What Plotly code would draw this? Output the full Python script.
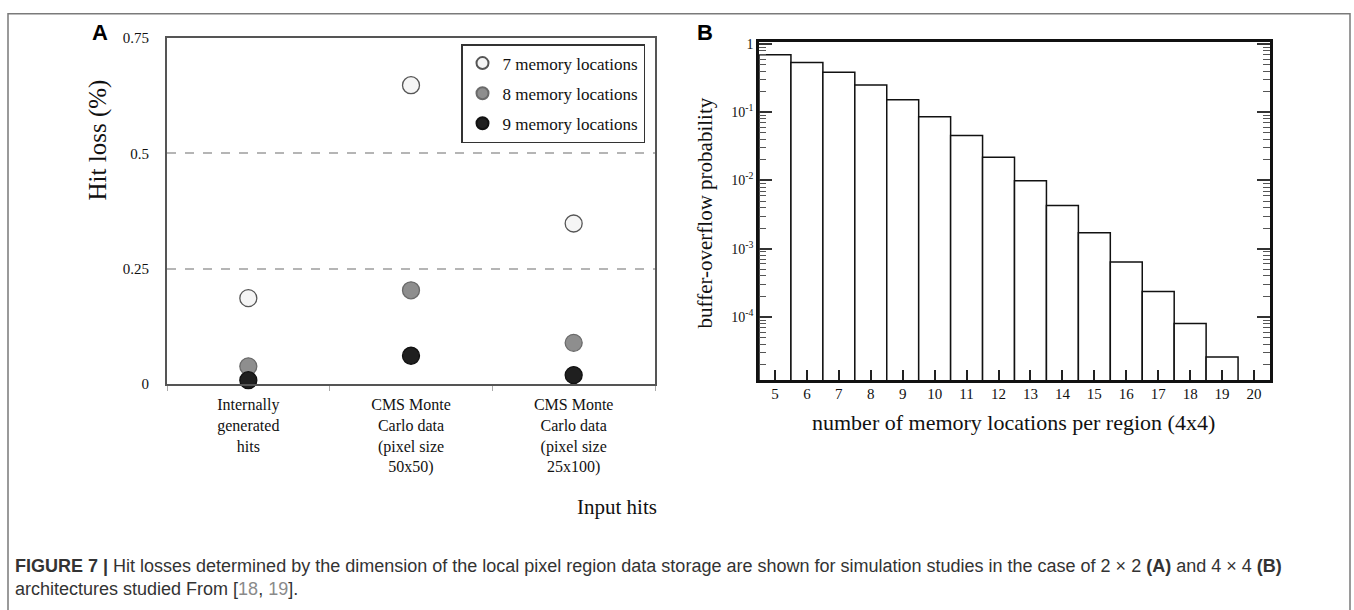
import plotly.graph_objects as go

W, H = 1354, 610

# ---------------- Panel A data ----------------
input_categories = [
    "Internally<br>generated<br>hits",
    "CMS Monte<br>Carlo data<br>(pixel size<br>50x50)",
    "CMS Monte<br>Carlo data<br>(pixel size<br>25x100)",
]
series_names = ["7 memory locations", "8 memory locations", "9 memory locations"]
hit_loss_7 = [0.186, 0.648, 0.348]
hit_loss_8 = [0.038, 0.203, 0.089]
hit_loss_9 = [0.008, 0.061, 0.019]
a_tick_vals = [0, 0.25, 0.5, 0.75]
a_tick_text = ["0", "0.25", "0.5", "0.75"]

# ---------------- Panel B data ----------------
memory_locations = [5, 6, 7, 8, 9, 10, 11, 12, 13, 14, 15, 16, 17, 18, 19]
overflow_prob = [0.695, 0.534, 0.385, 0.251, 0.152, 0.0857, 0.0455, 0.0219,
                 0.0099, 0.00431, 0.00172, 0.00064, 0.000237, 0.000080, 0.000026]
b_major_vals = [1, 0.1, 0.01, 0.001, 0.0001]
b_major_text = ["1", "10<sup>-1</sup>", "10<sup>-2</sup>", "10<sup>-3</sup>", "10<sup>-4</sup>"]
b_minor_vals = [m * d for d in [1e-5, 1e-4, 1e-3, 1e-2, 1e-1] for m in range(2, 10)]

SERIF = "Liberation Serif, Times New Roman, serif"
SANS = "Liberation Sans, Arial, sans-serif"

def px_x(x):
    return x / W

def px_y(y):
    return 1 - y / H

fig = go.Figure()

styles = [
    dict(color="#f5f5f5", line=dict(color="#555555", width=1.3)),
    dict(color="#8e8e8e", line=dict(color="#6a6a6a", width=1.3)),
    dict(color="#1f1f1f", line=dict(color="#111111", width=1.3)),
]
for name, vals, st in zip(series_names, [hit_loss_7, hit_loss_8, hit_loss_9], styles):
    fig.add_trace(go.Scatter(
        x=input_categories, y=vals, mode="markers", name=name,
        legendgroup=name,
        marker=dict(symbol="circle", size=17, **st),
        cliponaxis=False, xaxis="x", yaxis="y",
    ))

fig.add_trace(go.Bar(
    x=memory_locations, y=overflow_prob, width=1,
    marker=dict(color="white", line=dict(color="#111111", width=1.5)),
    showlegend=False, xaxis="x2", yaxis="y2",
))

fig.update_layout(
    width=W, height=H,
    margin=dict(l=0, r=0, t=0, b=0),
    paper_bgcolor="white", plot_bgcolor="white",
    showlegend=True,
    legend=dict(
        x=px_x(645), y=px_y(37), xanchor="right", yanchor="top",
        bgcolor="white", bordercolor="#333333", borderwidth=1.5,
        font=dict(family=SERIF, size=17, color="#111111"),
        itemsizing="constant", tracegroupgap=5,
        itemwidth=30,
    ),
    xaxis=dict(
        domain=[px_x(167), px_x(655)],
        type="category", categoryorder="array", categoryarray=input_categories,
        range=[-0.5, 2.5], anchor="y",
        showline=True, linecolor="#555555", linewidth=2, mirror=True,
        ticks="outside", tickson="boundaries", ticklen=5, tickcolor="#aaaaaa",
        tickfont=dict(family=SERIF, size=16, color="#111111"),
        showgrid=False, zeroline=False,
        ticklabelstandoff=5,
    ),
    yaxis=dict(
        domain=[px_y(386), px_y(31)], range=[0, 0.75], anchor="x",
        tickmode="array", tickvals=a_tick_vals, ticktext=a_tick_text,
        tickfont=dict(family=SERIF, size=15, color="#111111"),
        showline=True, linecolor="#555555", linewidth=2, mirror=True,
        ticks="", showgrid=True, gridcolor="#b5b5b5", gridwidth=1.5,
        griddash="dash", zeroline=False, ticklabelstandoff=13,
    ),
    xaxis2=dict(
        domain=[px_x(759), px_x(1270)], range=[4.5, 20.5], anchor="y2",
        tickmode="linear", tick0=5, dtick=1,
        ticks="inside", ticklen=10, tickwidth=1.5, tickcolor="#222222",
        tickfont=dict(family=SERIF, size=15, color="#111111"),
        showline=True, linecolor="#111111", linewidth=2.5, mirror=True,
        showgrid=False, zeroline=False, ticklabelstandoff=-2,
    ),
    yaxis2=dict(
        domain=[px_y(382), px_y(35)], type="log", range=[-4.923, 0.027], anchor="x2",
        tickmode="array", tickvals=b_major_vals, ticktext=b_major_text,
        ticks="inside", ticklen=13, tickwidth=1.5, tickcolor="#333333",
        tickfont=dict(family=SERIF, size=14, color="#111111"),
        showline=True, linecolor="#111111", linewidth=2.5, mirror="ticks",
        showgrid=False, zeroline=False,
        minor=dict(tickmode="array", tickvals=b_minor_vals, ticks="inside",
                   ticklen=7, tickwidth=1.2, tickcolor="#555555", showgrid=False),
    ),
)

annotations = [
    dict(text="<b>A</b>", x=px_x(100), y=px_y(25), font=dict(family=SANS, size=22, color="#000")),
    dict(text="<b>B</b>", x=px_x(705), y=px_y(25), font=dict(family=SANS, size=22, color="#000")),
    dict(text="Hit loss (%)", x=px_x(98), y=px_y(136), textangle=-90,
         font=dict(family=SERIF, size=25, color="#111")),
    dict(text="Input hits", x=px_x(617), y=px_y(512),
         font=dict(family=SERIF, size=21, color="#111")),
    dict(text="buffer-overflow probability", x=px_x(705), y=px_y(211), textangle=-90,
         font=dict(family=SERIF, size=21, color="#111")),
    dict(text="number of memory locations per region (4x4)", x=px_x(1013), y=px_y(426),
         font=dict(family=SERIF, size=22, color="#111")),
]
for a in annotations:
    a.update(xref="paper", yref="paper", showarrow=False, xanchor="center", yanchor="middle")

caption = ("<b>FIGURE 7 |</b> Hit losses determined by the dimension of the local pixel region data storage "
           "are shown for simulation studies in the case of 2 × 2 <b>(A)</b> and 4 × 4 <b>(B)</b><br>"
           "architectures studied From [<span style='color:#8a8a8a'>18</span>, "
           "<span style='color:#8a8a8a'>19</span>].")
annotations.append(dict(text=caption, x=px_x(13), y=px_y(585), xref="paper", yref="paper",
                        showarrow=False, xanchor="left", yanchor="middle", align="left",
                        font=dict(family=SANS, size=18, color="#333333")))
fig.update_layout(annotations=annotations)

fig.add_shape(type="rect", xref="paper", yref="paper",
              x0=px_x(8), x1=px_x(1350), y0=px_y(625), y1=px_y(6),
              line=dict(color="#7a7a7a", width=1.5), fillcolor="rgba(0,0,0,0)", layer="below")

fig.write_html("out.html")
